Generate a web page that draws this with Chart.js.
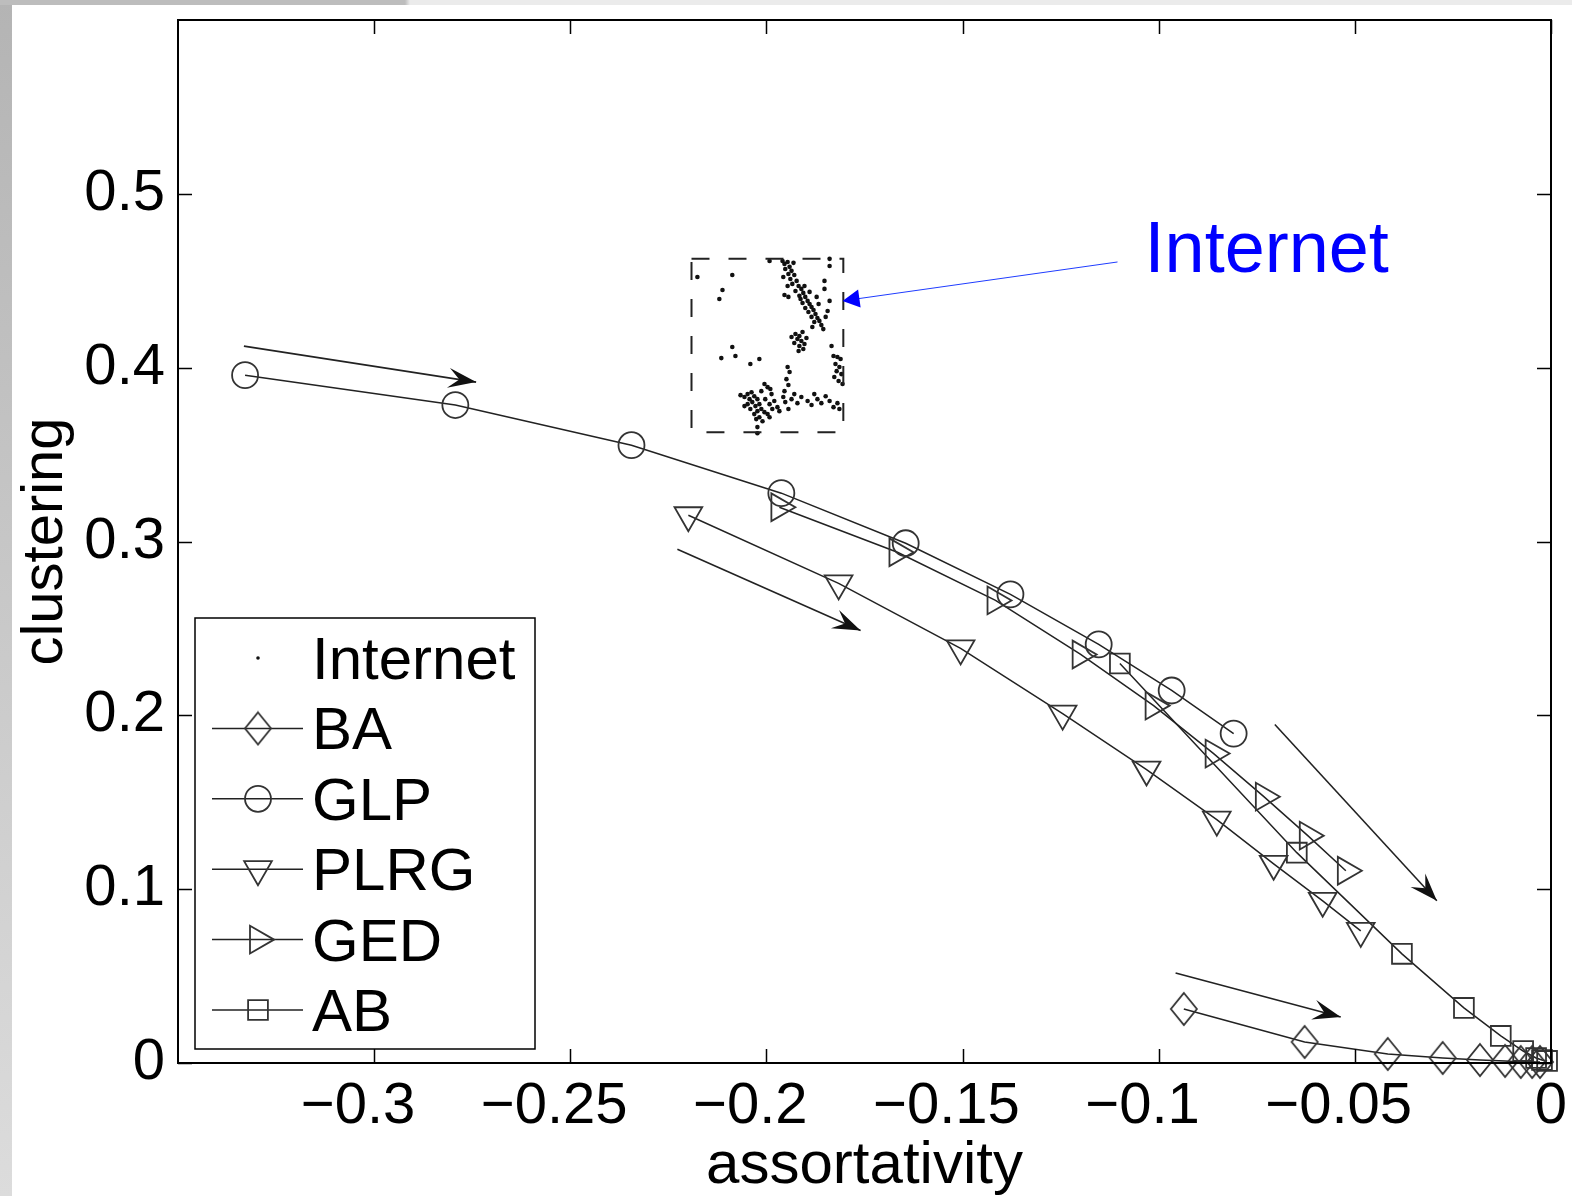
<!DOCTYPE html>
<html>
<head>
<meta charset="utf-8">
<title>clustering vs assortativity</title>
<script src="https://cdn.jsdelivr.net/npm/chart.js@4.4.0/dist/chart.umd.min.js"></script>
<style>
  html, body { margin: 0; padding: 0; background: #fff; }
  #wrap { position: relative; width: 1572px; height: 1196px; background: #fff; overflow: hidden; }
  .edge-left { position: absolute; left: 0; top: 0; width: 12px; height: 1196px; background: linear-gradient(to bottom, #b4b4b4, #dcdcdc); }
  .edge-top { position: absolute; left: 0; top: 0; width: 1572px; height: 5px; background: linear-gradient(to right, #bdbdbd 0, #bdbdbd 405px, #ebebeb 410px); }
  canvas { position: absolute; left: 0; top: 0; }
</style>
</head>
<body>
<div id="wrap">
  <div class="edge-left"></div>
  <div class="edge-top"></div>
  <canvas id="chart" width="1572" height="1196"></canvas>
</div>
<script>
'use strict';

/* ── data ── */
const baX   = [-0.0936, -0.0628, -0.0416, -0.0276, -0.0181, -0.0117, -0.0077, -0.0048, -0.0028];
const baY   = [ 0.0311,  0.0121,  0.0052,  0.0029,  0.0017,  0.0012,  0.0006,  0.0006,  0.0006];
const glpX  = [-0.3329, -0.2793, -0.2344, -0.1962, -0.1645, -0.1378, -0.1153, -0.0967, -0.0809];
const glpY  = [ 0.3957,  0.3785,  0.3554,  0.3278,  0.2990,  0.2696,  0.2408,  0.2143,  0.1895];
const plrgX = [-0.2199, -0.1816, -0.1505, -0.1245, -0.1031, -0.0852, -0.0707, -0.0582, -0.0485];
const plrgY = [ 0.3151,  0.2759,  0.2385,  0.2010,  0.1688,  0.1400,  0.1146,  0.0933,  0.0760];
const gedX  = [-0.1967, -0.1666, -0.1416, -0.1199, -0.1013, -0.0860, -0.0732, -0.0620, -0.0523];
const gedY  = [ 0.3197,  0.2938,  0.2661,  0.2350,  0.2056,  0.1780,  0.1532,  0.1308,  0.1106];
const abX   = [-0.1099, -0.0648, -0.0380, -0.0222, -0.0128, -0.0071, -0.0038, -0.0023, -0.0010];
const abY   = [ 0.2298,  0.1210,  0.0628,  0.0317,  0.0156,  0.0069,  0.0029,  0.0017,  0.0012];

// Internet snapshots [assortativity, clustering]
const internetPts = [
  [-0.1959,0.4614],[-0.1954,0.4597],[-0.1946,0.4608],[-0.1941,0.4580],[-0.1952,0.4568],[-0.1936,0.4557],
  [-0.1944,0.4539],[-0.1929,0.4533],[-0.1957,0.4522],[-0.1939,0.4510],[-0.1923,0.4499],[-0.1934,0.4482],
  [-0.1918,0.4470],[-0.1946,0.4470],[-0.1911,0.4453],[-0.1926,0.4441],[-0.1906,0.4430],[-0.1916,0.4413],
  [-0.1901,0.4407],[-0.1895,0.4384],[-0.1908,0.4372],[-0.1890,0.4366],[-0.1885,0.4349],[-0.1901,0.4343],
  [-0.1880,0.4332],[-0.1893,0.4320],[-0.1875,0.4309],[-0.1885,0.4292],[-0.1870,0.4286],[-0.1865,0.4269],
  [-0.1878,0.4263],[-0.1860,0.4245],[-0.1883,0.4234],[-0.1855,0.4222],[-0.1849,0.4292],[-0.1844,0.4326],
  [-0.1867,0.4366],[-0.1890,0.4436],[-0.1872,0.4407],[-0.1931,0.4603],[-0.1913,0.4395],[-0.1903,0.4470],
  [-0.1954,0.4418],[-0.1944,0.4407],
  [-0.1926,0.4194],[-0.1916,0.4182],[-0.1908,0.4205],[-0.1921,0.4165],[-0.1911,0.4153],[-0.1903,0.4136],
  [-0.1929,0.4142],[-0.1916,0.4125],[-0.1898,0.4171],[-0.1936,0.4176],[-0.1906,0.4107],[-0.1918,0.4096],
  [-0.1829,0.4067],[-0.1819,0.4061],[-0.1811,0.4050],[-0.1824,0.4021],[-0.1814,0.4004],[-0.1821,0.3980],
  [-0.1809,0.3963],[-0.1827,0.3946],[-0.1816,0.3923],[-0.1806,0.3906],
  [-0.2048,0.3848],[-0.2038,0.3859],[-0.2031,0.3836],[-0.2043,0.3819],[-0.2056,0.3831],[-0.2023,0.3819],
  [-0.2036,0.3802],[-0.2048,0.3790],[-0.2028,0.3779],[-0.2018,0.3790],[-0.2041,0.3762],[-0.2023,0.3750],
  [-0.2013,0.3762],[-0.2031,0.3733],[-0.2005,0.3744],[-0.2018,0.3715],[-0.1997,0.3733],[-0.2026,0.3704],
  [-0.2010,0.3692],[-0.2023,0.3658],[-0.2003,0.3819],[-0.1992,0.3790],[-0.1987,0.3848],[-0.1997,0.3888],
  [-0.2005,0.3906],[-0.1980,0.3808],[-0.1985,0.3762],[-0.1972,0.3773],[-0.1992,0.3715],[-0.1967,0.3750],
  [-0.1957,0.3831],[-0.2056,0.3779],[-0.2066,0.3842],[-0.2013,0.3865],[-0.1990,0.3877],
  [-0.1952,0.3802],[-0.1936,0.3819],[-0.1921,0.3796],[-0.1911,0.3831],[-0.1895,0.3808],[-0.1885,0.3785],
  [-0.1870,0.3819],[-0.1860,0.3796],[-0.1849,0.3836],[-0.1839,0.3808],[-0.1829,0.3773],[-0.1819,0.3796],
  [-0.1814,0.3762],[-0.1878,0.3848],[-0.1944,0.3762],[-0.1929,0.3848],
  [-0.1946,0.4004],[-0.1941,0.3975],[-0.1949,0.3934],[-0.1944,0.3900],[-0.1954,0.3865],
  [-0.2176,0.4522],[-0.2087,0.4533],[-0.2112,0.4447],[-0.2120,0.4395],[-0.2087,0.4119],[-0.2115,0.4055],
  [-0.2079,0.4067],[-0.2018,0.4050],[-0.2041,0.4021],[-0.1992,0.4614],[-0.1839,0.4626],[-0.1839,0.4585],
  [-0.1852,0.4499],[-0.1852,0.4453],[-0.1839,0.4384],[-0.1834,0.4125],[-0.2023,0.3623]
];

const xTicks = [-0.3, -0.25, -0.2, -0.15, -0.1, -0.05, 0];
// trailing figure space keeps the number itself centred on its tick, minus hanging left
const xTickLabels = ['\u22120.3\u2007', '\u22120.25\u2007', '\u22120.2\u2007', '\u22120.15\u2007', '\u22120.1\u2007', '\u22120.05\u2007', '0'];
const yTicks = [0, 0.1, 0.2, 0.3, 0.4, 0.5];
const yTickLabels = ['0', '0.1', '0.2', '0.3', '0.4', '0.5'];

// annotations, in data units
const arrowFrom = [[-0.3332, 0.4124], [-0.2227, 0.2955], [-0.0704, 0.1947], [-0.0957, 0.0518]];
const arrowTo   = [[-0.2740, 0.3917], [-0.1760, 0.2488], [-0.0291, 0.0933], [-0.0536, 0.0265]];
const boxX = [-0.2191, -0.1804];
const boxY = [0.3629, 0.4626];
const noteFrom = [-0.1105, 0.4608];
const noteTo   = [-0.1806, 0.4384];
const noteText = 'Internet';
const noteAt   = [-0.1036, 0.4551];

/* ── styles ── */
const FONT = '"Liberation Sans", Arial, Helvetica, sans-serif';
const LINE = '#222';
const MARK = '#333';

// MATLAB-like tall diamond
function diamondMarker() {
  const c = document.createElement('canvas');
  c.width = 30; c.height = 36;
  const g = c.getContext('2d');
  g.strokeStyle = MARK; g.lineWidth = 1.8;
  g.beginPath();
  g.moveTo(15, 2); g.lineTo(28, 18); g.lineTo(15, 34); g.lineTo(2, 18);
  g.closePath(); g.stroke();
  return c;
}

const pts = (xs, ys) => xs.map((x, i) => ({ x, y: ys[i] }));

function series(label, xs, ys, style, radius, rotation) {
  return {
    label, data: pts(xs, ys), showLine: true,
    borderColor: LINE, borderWidth: 1.5,
    pointStyle: style, pointRadius: radius, pointRotation: rotation || 0,
    pointBorderColor: MARK, pointBorderWidth: 1.8,
    pointBackgroundColor: 'rgba(0,0,0,0)', clip: false
  };
}

const datasets = [
  {
    label: 'Internet', data: internetPts.map(p => ({ x: p[0], y: p[1] })), showLine: false,
    pointStyle: 'circle', pointRadius: 2.3, pointBorderWidth: 0,
    pointBackgroundColor: '#111', borderColor: '#111', clip: false
  },
  series('BA', baX, baY, diamondMarker(), 14),
  series('GLP', glpX, glpY, 'circle', 13),
  series('PLRG', plrgX, plrgY, 'triangle', 16, 180),
  series('GED', gedX, gedY, 'triangle', 16, 90),
  series('AB', abX, abY, 'rect', 14)
];

/* ── arrows / box / frame / legend ── */
function arrowHead(ctx, x0, y0, x1, y1, len, half, notch) {
  const a = Math.atan2(y1 - y0, x1 - x0);
  const c = Math.cos(a), s = Math.sin(a);
  ctx.beginPath();
  ctx.moveTo(x1, y1);
  ctx.lineTo(x1 - len * c - half * s, y1 - len * s + half * c);
  ctx.lineTo(x1 - notch * c, y1 - notch * s);
  ctx.lineTo(x1 - len * c + half * s, y1 - len * s - half * c);
  ctx.closePath();
  ctx.fill();
}

const decor = {
  id: 'decor',
  afterDatasetsDraw(chart) {
    const { ctx, chartArea: a, scales: { x, y } } = chart;
    ctx.save();

    // dashed box round the Internet points
    ctx.strokeStyle = '#222'; ctx.lineWidth = 2; ctx.setLineDash([18, 19]);
    const bx0 = x.getPixelForValue(boxX[0]), bx1 = x.getPixelForValue(boxX[1]);
    const by0 = y.getPixelForValue(boxY[0]), by1 = y.getPixelForValue(boxY[1]);
    ctx.strokeRect(bx0, by1, bx1 - bx0, by0 - by1);
    ctx.setLineDash([]);

    // black trend arrows
    ctx.strokeStyle = '#222'; ctx.fillStyle = '#111'; ctx.lineWidth = 1.6;
    arrowFrom.forEach((f, i) => {
      const x0 = x.getPixelForValue(f[0]), y0 = y.getPixelForValue(f[1]);
      const x1 = x.getPixelForValue(arrowTo[i][0]), y1 = y.getPixelForValue(arrowTo[i][1]);
      ctx.beginPath(); ctx.moveTo(x0, y0); ctx.lineTo(x1, y1); ctx.stroke();
      arrowHead(ctx, x0, y0, x1, y1, 28, 10, 17);
    });

    // blue note
    ctx.strokeStyle = '#1f3cff'; ctx.fillStyle = '#0000ff'; ctx.lineWidth = 1;
    const nx0 = x.getPixelForValue(noteFrom[0]), ny0 = y.getPixelForValue(noteFrom[1]);
    const nx1 = x.getPixelForValue(noteTo[0]), ny1 = y.getPixelForValue(noteTo[1]);
    ctx.beginPath(); ctx.moveTo(nx0, ny0); ctx.lineTo(nx1 + 14, ny1 - 2); ctx.stroke();
    arrowHead(ctx, nx0, ny0, nx1, ny1, 17, 9, 17);
    ctx.font = '72px ' + FONT; ctx.textBaseline = 'alphabetic'; ctx.textAlign = 'left';
    ctx.fillText(noteText, x.getPixelForValue(noteAt[0]), y.getPixelForValue(noteAt[1]));

    // axes frame + inward ticks
    ctx.strokeStyle = '#000'; ctx.lineWidth = 2;
    ctx.strokeRect(a.left, a.top, a.right - a.left, a.bottom - a.top);
    ctx.lineWidth = 1.5;
    ctx.beginPath();
    xTicks.forEach(v => {
      const px = Math.round(x.getPixelForValue(v)) + 0.5;
      ctx.moveTo(px, a.bottom); ctx.lineTo(px, a.bottom - 14);
      ctx.moveTo(px, a.top); ctx.lineTo(px, a.top + 14);
    });
    yTicks.forEach(v => {
      const py = Math.round(y.getPixelForValue(v)) + 0.5;
      ctx.moveTo(a.left, py); ctx.lineTo(a.left + 14, py);
      ctx.moveTo(a.right, py); ctx.lineTo(a.right - 14, py);
    });
    ctx.stroke();

    // legend
    const L = { left: 195, top: 618, right: 535, bottom: 1049, row0: 658, step: 70.4 };
    ctx.fillStyle = '#fff';
    ctx.fillRect(L.left, L.top, L.right - L.left, L.bottom - L.top);
    ctx.strokeStyle = '#000'; ctx.lineWidth = 1.5;
    ctx.strokeRect(L.left, L.top, L.right - L.left, L.bottom - L.top);
    ctx.font = '60px ' + FONT;
    chart.data.datasets.forEach((ds, i) => {
      const ry = L.row0 + L.step * i;
      if (ds.showLine) {
        ctx.strokeStyle = ds.borderColor; ctx.lineWidth = ds.borderWidth;
        ctx.beginPath(); ctx.moveTo(212, ry); ctx.lineTo(303, ry); ctx.stroke();
      }
      ctx.strokeStyle = ds.pointBorderColor || '#111';
      ctx.fillStyle = ds.pointBackgroundColor;
      ctx.lineWidth = ds.pointBorderWidth;
      Chart.helpers.drawPoint(ctx, {
        pointStyle: ds.pointStyle, radius: ds.showLine ? ds.pointRadius : 1.8,
        rotation: ds.pointRotation || 0, borderWidth: ds.pointBorderWidth
      }, 258, ry);
      ctx.fillStyle = '#000';
      ctx.fillText(ds.label, 312, ry + 21);
    });

    ctx.restore();
  }
};

/* ── chart ── */
const tickFont = { family: FONT, size: 58 };

new Chart(document.getElementById('chart'), {
  type: 'scatter',
  data: { datasets },
  options: {
    responsive: false,
    animation: false,
    events: [],
    layout: { padding: { top: 20, right: 21, left: 0, bottom: 0 } },
    elements: { line: { tension: 0 } },
    plugins: { legend: { display: false }, tooltip: { enabled: false } },
    scales: {
      x: {
        type: 'linear', min: -0.35, max: 0,
        grid: { display: false, drawTicks: false }, border: { display: false },
        afterBuildTicks: s => { s.ticks = xTicks.map(v => ({ value: v })); },
        afterFit: s => { s.height = 133; s.paddingLeft = 0; s.paddingRight = 0; },
        ticks: {
          color: '#000', font: tickFont, padding: 9, maxRotation: 0, autoSkip: false,
          callback: v => xTickLabels[xTicks.findIndex(t => Math.abs(t - v) < 1e-9)]
        },
        title: {
          display: true, text: 'assortativity', color: '#000',
          font: { family: FONT, size: 60, lineHeight: 1.0 }, padding: { top: 0, bottom: 0 }
        }
      },
      y: {
        type: 'linear', min: 0, max: 0.6,
        grid: { display: false, drawTicks: false }, border: { display: false },
        afterBuildTicks: s => { s.ticks = yTicks.map(v => ({ value: v })); },
        afterFit: s => { s.width = 178; s.paddingTop = 0; s.paddingBottom = 0; },
        ticks: {
          color: '#000', font: tickFont, padding: 13, autoSkip: false,
          callback: v => yTickLabels[yTicks.findIndex(t => Math.abs(t - v) < 1e-9)]
        },
        title: { display: true, text: 'clustering', color: '#000', font: tickFont, padding: { top: 11, bottom: 0 } }
      }
    }
  },
  plugins: [decor]
});
</script>
</body>
</html>
